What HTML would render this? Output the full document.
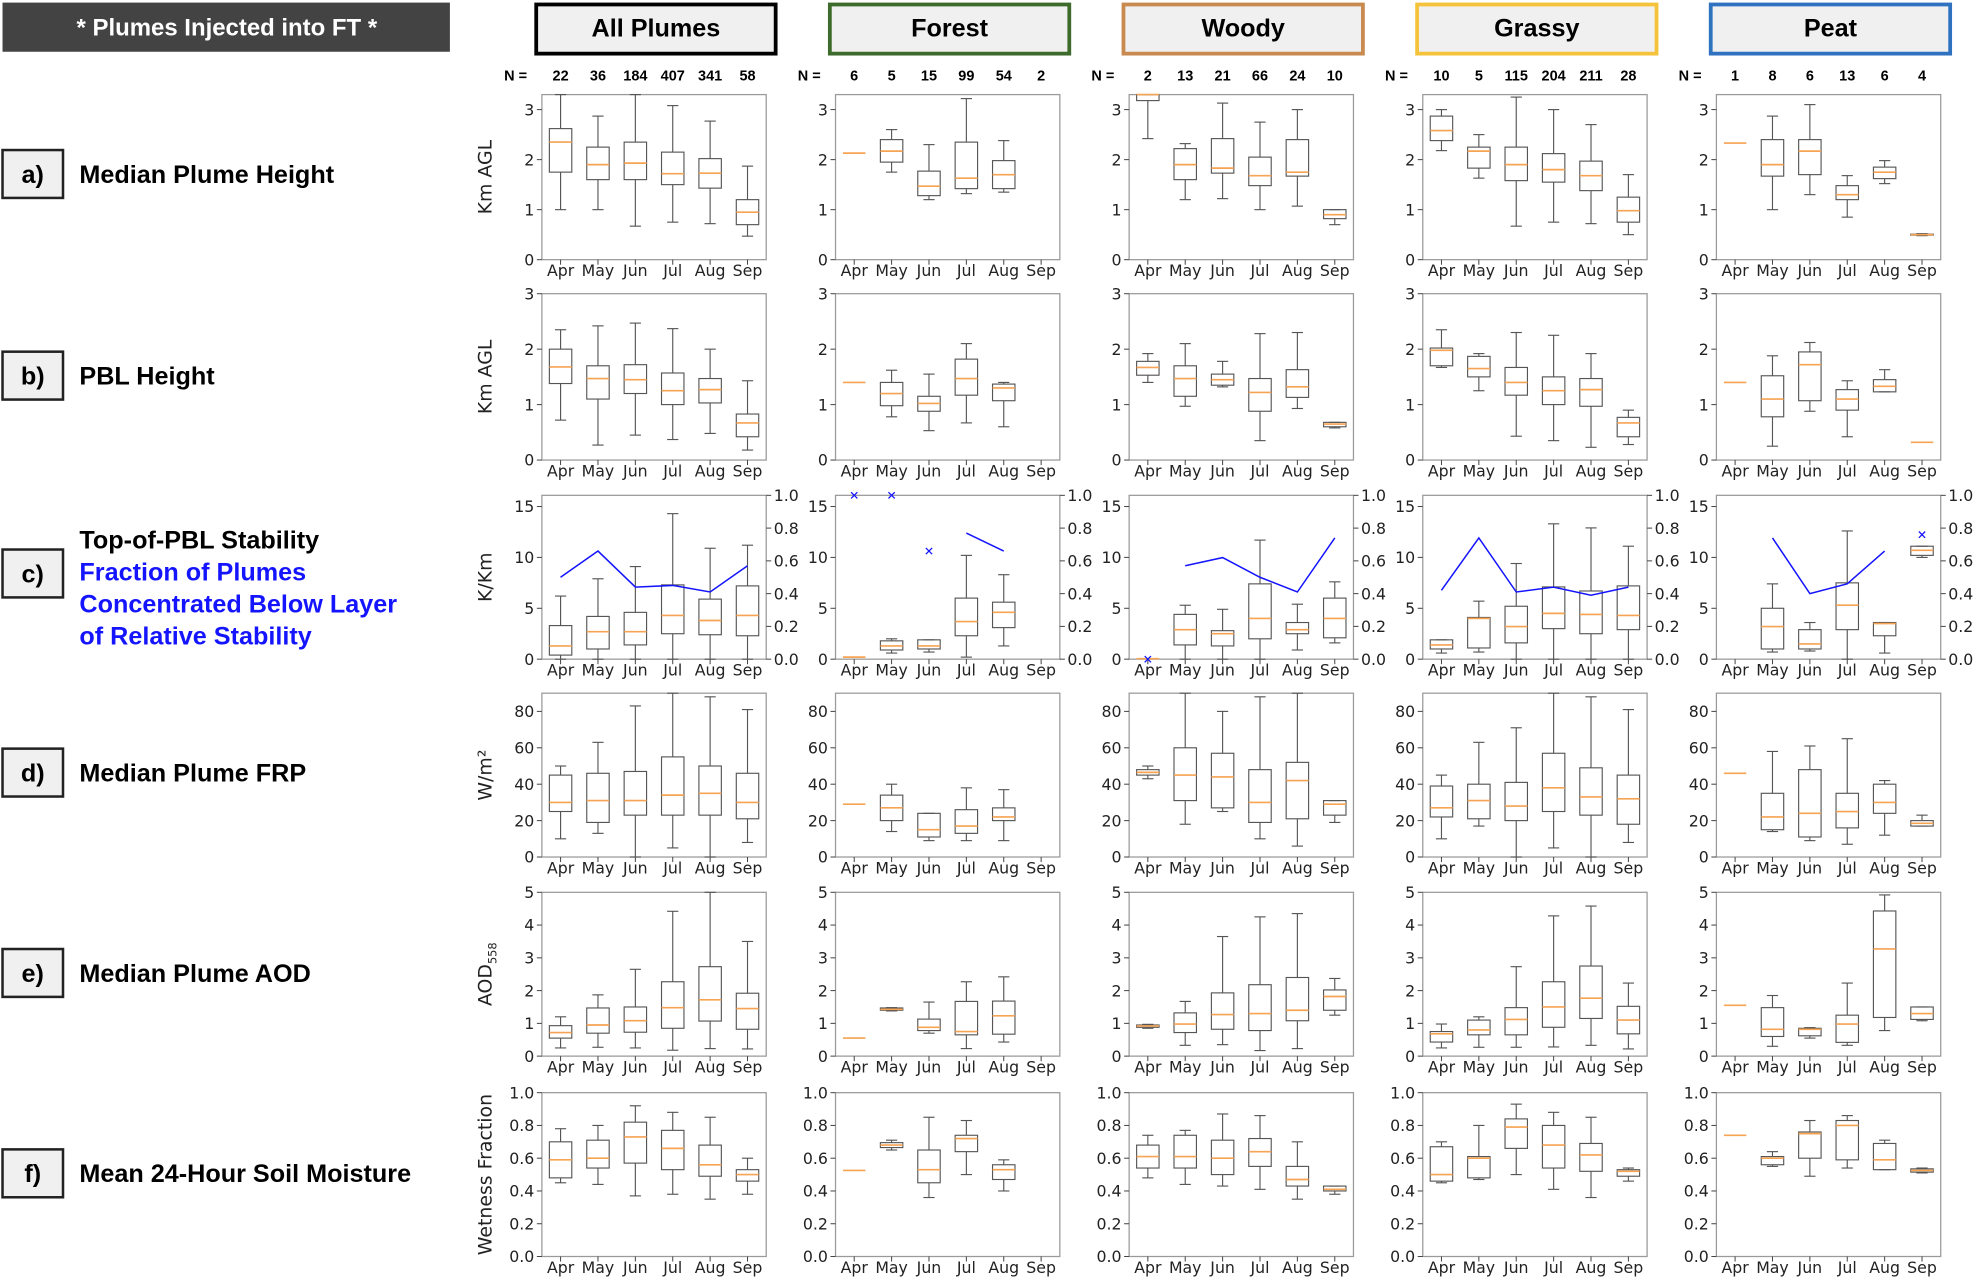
<!DOCTYPE html>
<html><head><meta charset="utf-8">
<style>
html,body{margin:0;padding:0;background:#fff;}
svg{display:block;}
.lbl{font-family:"Liberation Sans",Arial,sans-serif;font-weight:bold;}
.tk{font-family:"DejaVu Sans","Liberation Sans",sans-serif;font-size:12.5px;fill:#222;}
</style></head>
<body>
<svg id="fig" width="1976" height="1278" viewBox="0 0 1568 1014" xmlns="http://www.w3.org/2000/svg">
<rect x="0" y="0" width="1568" height="1014" fill="#fff"/>
<g>
<rect x="2" y="2" width="355" height="39" fill="#434343"/>
<text class="lbl" x="180" y="28" font-size="19" fill="#fff" text-anchor="middle">* Plumes Injected into FT *</text>
</g>
<g id="rowlabels"></g>
<g id="plots"></g>
</svg>
<script>
// ---------- data ----------
const months = ["Apr","May","Jun","Jul","Aug","Sep"];
const groups = ["All Plumes","Forest","Woody","Grassy","Peat"];
const groupColors = ["#000000","#3d6b2b","#c88a4e","#f5c33b","#2f73c0"];
const nAll = [22,36,184,407,341,58];
const nForest = [6,5,15,99,54,2];
const nWoody = [2,13,21,66,24,10];
const nGrassy = [10,5,115,204,211,28];
const nPeat = [1,8,6,13,6,4];
// boxes: [whiskerLow, q1, median, q3, whiskerHigh]; single number = median only; null = none
const heightAll = [[1.0,1.75,2.35,2.62,3.3],[1.0,1.6,1.9,2.25,2.87],[0.67,1.6,1.93,2.35,3.3],[0.75,1.5,1.72,2.15,3.08],[0.72,1.43,1.73,2.02,2.77],[0.47,0.7,0.95,1.2,1.87]];
const heightForest = [2.13,[1.75,1.95,2.17,2.4,2.6],[1.2,1.28,1.47,1.77,2.3],[1.32,1.42,1.63,2.35,3.22],[1.35,1.42,1.7,1.98,2.38],null];
const heightWoody = [[2.42,3.18,3.3,3.3,3.3],[1.2,1.6,1.9,2.22,2.32],[1.22,1.73,1.83,2.42,3.13],[1.0,1.48,1.68,2.05,2.75],[1.07,1.67,1.75,2.4,3.0],[0.7,0.82,0.9,1.0,1.0]];
const heightGrassy = [[2.18,2.38,2.58,2.87,3.0],[1.63,1.83,2.17,2.25,2.5],[0.67,1.58,1.9,2.25,3.25],[0.75,1.55,1.8,2.12,3.0],[0.72,1.38,1.68,1.97,2.7],[0.5,0.75,0.98,1.25,1.7]];
const heightPeat = [2.33,[1.0,1.67,1.9,2.4,2.87],[1.3,1.7,2.17,2.4,3.1],[0.85,1.2,1.3,1.48,1.68],[1.52,1.62,1.75,1.85,1.98],[0.48,0.49,0.5,0.51,0.52]];
const pblAll = [[0.72,1.38,1.68,2.0,2.35],[0.27,1.1,1.47,1.7,2.42],[0.45,1.2,1.45,1.72,2.47],[0.37,1.0,1.25,1.57,2.37],[0.48,1.03,1.27,1.47,2.0],[0.18,0.42,0.67,0.83,1.43]];
const pblForest = [1.4,[0.78,0.98,1.2,1.4,1.62],[0.53,0.88,1.02,1.15,1.55],[0.67,1.17,1.47,1.82,2.1],[0.6,1.07,1.3,1.37,1.4],null];
const pblWoody = [[1.4,1.53,1.67,1.78,1.92],[0.97,1.15,1.47,1.7,2.1],[1.32,1.35,1.45,1.55,1.78],[0.35,0.88,1.22,1.47,2.28],[0.93,1.13,1.32,1.63,2.3],[0.58,0.6,0.65,0.68,0.68]];
const pblGrassy = [[1.67,1.7,1.98,2.02,2.35],[1.25,1.5,1.65,1.87,1.92],[0.43,1.17,1.4,1.67,2.3],[0.35,1.0,1.25,1.5,2.25],[0.23,0.97,1.27,1.47,1.92],[0.28,0.42,0.67,0.77,0.9]];
const pblPeat = [1.4,[0.25,0.78,1.1,1.52,1.88],[0.88,1.07,1.72,1.95,2.12],[0.42,0.9,1.1,1.27,1.43],[1.23,1.23,1.33,1.45,1.63],0.32];
const stabAll = [[0,0.4,1.3,3.3,6.2],[0,1.0,2.7,4.2,7.9],[0,1.4,2.7,4.6,9.1],[0,2.5,4.3,7.3,14.3],[0,2.4,3.8,5.9,10.9],[0,2.3,4.3,7.2,11.2]];
const stabForest = [0.2,[0.6,0.9,1.3,1.8,2.0],[0.7,1.0,1.3,1.9,1.9],[0.2,2.3,3.7,6.0,10.2],[1.3,3.1,4.6,5.6,8.3],null];
const stabWoody = [0.05,[0,1.4,2.9,4.4,5.3],[0,1.3,2.5,2.8,4.9],[0,2.0,4.0,7.4,11.7],[0.9,2.5,2.9,3.6,5.4],[1.6,2.1,4.0,6.0,7.6]];
const stabGrassy = [[0.6,1.0,1.4,1.9,1.9],[0.7,1.1,4.0,4.1,5.7],[0,1.6,3.2,5.2,9.4],[0,3.0,4.5,7.1,13.3],[0,2.5,4.4,6.7,12.9],[0,2.9,4.3,7.2,11.1]];
const stabPeat = [null,[0.7,1.0,3.2,5.0,7.4],[0.8,1.0,1.5,2.9,3.6],[0,2.9,5.3,7.5,12.6],[0.6,2.3,3.5,3.6,3.6],[10.0,10.2,10.7,11.1,11.1]];
// fraction of plumes below stable layer (right axis): line values and isolated markers
const fracLineAll = [0.5,0.66,0.44,0.45,0.41,0.57];
const fracLineForest = [null,null,null,0.77,0.66,null];
const fracLineWoody = [null,0.57,0.62,0.5,0.41,0.74];
const fracLineGrassy = [0.42,0.74,0.41,0.44,0.39,0.44];
const fracLinePeat = [null,0.74,0.4,0.46,0.66,null];
const fracMarkAll = [null,null,null,null,null,null];
const fracMarkForest = [1.0,1.0,0.66,null,null,null];
const fracMarkWoody = [0.0,null,null,null,null,null];
const fracMarkGrassy = [null,null,null,null,null,null];
const fracMarkPeat = [null,null,null,null,null,0.76];
const frpAll = [[10,25,30,45,50],[13,19,31,46,63],[0,23,31,47,83],[5,23,34,55,90],[0,23,35,50,88],[8,21,30,46,81]];
const frpForest = [29,[14,20,27,34,40],[9,11,15,24,24],[9,13,17,26,38],[9,20,22,27,37],null];
const frpWoody = [[43,45,46.5,48,50],[18,31,45,60,90],[25,27,44,57,80],[10,19,30,48,88],[6,21,42,52,90],[19,23,29,31,31]];
const frpGrassy = [[10,22,27,39,45],[17,21,31,40,63],[0,20,28,41,71],[5,25,38,57,90],[0,23,33,49,88],[8,18,32,45,81]];
const frpPeat = [46,[14,15,22,35,58],[9,11,24,48,61],[7,16,25,35,65],[12,24,30,40,42],[17,17,18.5,20,23]];
const aodAll = [[0.25,0.55,0.72,0.93,1.2],[0.27,0.7,0.95,1.47,1.87],[0.25,0.73,1.08,1.5,2.65],[0.18,0.85,1.48,2.27,4.42],[0.23,1.07,1.72,2.73,5.0],[0.22,0.82,1.45,1.92,3.5]];
const aodForest = [0.55,[1.38,1.4,1.43,1.47,1.48],[0.7,0.78,0.88,1.13,1.65],[0.23,0.65,0.75,1.67,2.27],[0.43,0.67,1.23,1.68,2.42],null];
const aodWoody = [[0.85,0.88,0.92,0.95,0.97],[0.33,0.72,0.98,1.32,1.67],[0.35,0.82,1.27,1.93,3.65],[0.17,0.78,1.3,2.18,4.25],[0.23,1.08,1.4,2.4,4.35],[1.25,1.4,1.82,2.02,2.37]];
const aodGrassy = [[0.25,0.43,0.68,0.75,0.98],[0.27,0.65,0.8,1.1,1.2],[0.27,0.65,1.12,1.48,2.73],[0.28,0.88,1.5,2.27,4.28],[0.33,1.15,1.77,2.75,4.58],[0.22,0.68,1.1,1.52,2.23]];
const aodPeat = [1.55,[0.3,0.6,0.82,1.48,1.85],[0.55,0.62,0.82,0.85,0.87],[0.33,0.42,0.98,1.25,2.23],[0.78,1.18,3.27,4.43,4.92],[1.08,1.12,1.3,1.5,1.5]];
const soilAll = [[0.45,0.48,0.59,0.7,0.78],[0.44,0.54,0.6,0.71,0.8],[0.37,0.57,0.73,0.82,0.92],[0.38,0.53,0.66,0.77,0.88],[0.35,0.49,0.56,0.68,0.85],[0.38,0.46,0.5,0.53,0.6]];
const soilForest = [0.525,[0.65,0.665,0.68,0.695,0.71],[0.36,0.45,0.53,0.65,0.85],[0.5,0.64,0.72,0.74,0.83],[0.4,0.47,0.53,0.56,0.59],null];
const soilWoody = [[0.48,0.54,0.61,0.68,0.74],[0.44,0.54,0.61,0.74,0.77],[0.43,0.5,0.6,0.71,0.87],[0.41,0.55,0.64,0.72,0.86],[0.35,0.43,0.47,0.55,0.7],[0.38,0.4,0.41,0.43,0.43]];
const soilGrassy = [[0.45,0.46,0.5,0.67,0.7],[0.47,0.48,0.6,0.61,0.8],[0.5,0.66,0.79,0.84,0.93],[0.41,0.54,0.68,0.8,0.88],[0.36,0.52,0.62,0.69,0.85],[0.46,0.49,0.52,0.53,0.54]];
const soilPeat = [0.74,[0.55,0.56,0.6,0.61,0.64],[0.49,0.6,0.75,0.76,0.83],[0.54,0.59,0.8,0.83,0.86],[0.53,0.53,0.59,0.69,0.71],[0.51,0.515,0.525,0.535,0.54]];
const ticksA = ["0","1","2","3"];
const ticksC = ["0","5","10","15"];
const ticksD = ["0","20","40","60","80"];
const ticksE = ["0","1","2","3","4","5"];
const ticksF = ["0.0","0.2","0.4","0.6","0.8","1.0"];
const ticksR = ["0.0","0.2","0.4","0.6","0.8","1.0"];

// ---------- layout ----------
const NS = "http://www.w3.org/2000/svg";
function mk(tag, attrs, parent){const e=document.createElementNS(NS,tag);for(const k in attrs)e.setAttribute(k,attrs[k]);if(parent)parent.appendChild(e);return e;}
const rows = [
 {key:"a",top:75,bot:206,ymax:3.3,ticks:ticksA,title:"Km AGL",data:[heightAll,heightForest,heightWoody,heightGrassy,heightPeat],label:["Median Plume Height"],ly:138},
 {key:"b",top:233,bot:365,ymax:3.0,ticks:ticksA,title:"Km AGL",data:[pblAll,pblForest,pblWoody,pblGrassy,pblPeat],label:["PBL Height"],ly:298},
 {key:"c",top:393,bot:523,ymax:16.1,ticks:ticksC,title:"K/Km",data:[stabAll,stabForest,stabWoody,stabGrassy,stabPeat],label:["Top-of-PBL Stability","Fraction of Plumes","Concentrated Below Layer","of Relative Stability"],ly:455,
  fl:[fracLineAll,fracLineForest,fracLineWoody,fracLineGrassy,fracLinePeat],fm:[fracMarkAll,fracMarkForest,fracMarkWoody,fracMarkGrassy,fracMarkPeat]},
 {key:"d",top:550,bot:680,ymax:90,ticks:ticksD,title:"W/m²",data:[frpAll,frpForest,frpWoody,frpGrassy,frpPeat],label:["Median Plume FRP"],ly:613},
 {key:"e",top:708,bot:838,ymax:5,ticks:ticksE,title:"AOD",sub:"558",data:[aodAll,aodForest,aodWoody,aodGrassy,aodPeat],label:["Median Plume AOD"],ly:772},
 {key:"f",top:867,bot:997,ymax:1.0,ticks:ticksF,title:"Wetness Fraction",data:[soilAll,soilForest,soilWoody,soilGrassy,soilPeat],label:["Mean 24-Hour Soil Moisture"],ly:931}
];
const nCounts = [nAll,nForest,nWoody,nGrassy,nPeat];
const svg = document.getElementById("fig");
const plots = document.getElementById("plots");
const rl = document.getElementById("rowlabels");
const colX = k => 430 + 233*k, PW = 178;

groups.forEach((g,k)=>{
  const hg = mk("g",{},svg);
  
  
  mk("rect",{x:colX(k)-6+1.5,y:3.5,width:190,height:39,fill:"#f0f0f0",stroke:groupColors[k],"stroke-width":3},hg);
  const t=mk("text",{class:"lbl",x:colX(k)-6+96.5,y:29,"font-size":20,"text-anchor":"middle",fill:"#000"},hg); t.textContent=g;
  const ng = mk("g",{},svg);
  
  
  const nt=mk("text",{class:"lbl",x:colX(k)-30,y:64,"font-size":11.5,"text-anchor":"start"},ng); nt.textContent="N =";
  nCounts[k].forEach((n,i)=>{const x=colX(k)+PW*(i+0.5)/6;const tt=mk("text",{class:"lbl",x:x,y:64,"font-size":11.5,"text-anchor":"middle"},ng);tt.textContent=n;});
});

rows.forEach((r,ri)=>{
  const lg = mk("g",{},rl);
  
  
  mk("rect",{x:2,y:r.ly-19,width:48,height:38,fill:"#f0f0f0",stroke:"#222","stroke-width":2},lg);
  const bt=mk("text",{class:"lbl",x:26,y:r.ly+7,"font-size":20,"text-anchor":"middle"},lg); bt.textContent=r.key+")";
  if(r.label.length===1){const t=mk("text",{class:"lbl",x:63,y:r.ly+7,"font-size":20},lg);t.textContent=r.label[0];}
  else r.label.forEach((s,j)=>{const t=mk("text",{class:"lbl",x:63,y:435+j*25.5,"font-size":20,fill:j===0?"#000":"#1414ff"},lg);t.textContent=s;});
  const H=r.bot-r.top;
  const y=v=>r.bot - H*v/r.ymax;
  r.data.forEach((series,k)=>{
    const x0=colX(k);
    const xs=i=>x0+PW*(i+0.5)/6;
    const pg=mk("g",{},plots);
    
    
    mk("rect",{x:x0,y:r.top,width:PW,height:H,fill:"#fff",stroke:"#9a9a9a","stroke-width":1},pg);
    r.ticks.forEach(tl=>{const v=parseFloat(tl);const yy=y(v);
      mk("line",{x1:x0-4,x2:x0,y1:yy,y2:yy,stroke:"#444","stroke-width":0.8},pg);
      const t=mk("text",{class:"tk",x:x0-6,y:yy+4.5,"text-anchor":"end"},pg);t.textContent=tl;});
    months.forEach((m,i)=>{mk("line",{x1:xs(i),x2:xs(i),y1:r.bot,y2:r.bot+4,stroke:"#444","stroke-width":0.8},pg);
      const t=mk("text",{class:"tk",x:xs(i),y:r.bot+13,"text-anchor":"middle"},pg);t.textContent=m;});
    if(k===0){
      const cx=390, cy=(r.top+r.bot)/2;
      const t=mk("text",{class:"tk",x:cx,y:cy,"font-size":15,"text-anchor":"middle",transform:`rotate(-90 ${cx} ${cy})`},pg);
      
      
      t.style.fontSize="15px";
      t.textContent=r.title;
      if(r.sub){const s=mk("tspan",{"font-size":9,dy:4},t);s.textContent=r.sub;}
    }
    const bw=PW/6*0.6, cw=bw/2;
    const clip=v=>Math.min(v,r.ymax);
    series.forEach((b,i)=>{
      if(b===null)return;
      const cx=xs(i);
      const bg=mk("g",{},pg);
      
      
      if(typeof b==="number"){mk("line",{x1:cx-bw/2,x2:cx+bw/2,y1:y(b),y2:y(b),stroke:"#f7a354","stroke-width":1.3},bg);return;}
      const [lo,q1,md,q3,hi]=b.map(clip);
      mk("line",{x1:cx,x2:cx,y1:y(lo),y2:y(q1),stroke:"#555","stroke-width":0.9},bg);
      mk("line",{x1:cx,x2:cx,y1:y(q3),y2:y(hi),stroke:"#555","stroke-width":0.9},bg);
      mk("line",{x1:cx-cw/2,x2:cx+cw/2,y1:y(lo),y2:y(lo),stroke:"#555","stroke-width":0.9},bg);
      mk("line",{x1:cx-cw/2,x2:cx+cw/2,y1:y(hi),y2:y(hi),stroke:"#555","stroke-width":0.9},bg);
      mk("rect",{x:cx-bw/2,y:y(q3),width:bw,height:Math.max(0.5,y(q1)-y(q3)),fill:"none",stroke:"#555","stroke-width":0.9},bg);
      mk("line",{x1:cx-bw/2,x2:cx+bw/2,y1:y(md),y2:y(md),stroke:"#f7a354","stroke-width":1.3},bg);
    });
    if(r.fl){
      const yr=v=>r.bot-H*v;
      ticksR.forEach(tl=>{const v=parseFloat(tl);const yy=yr(v);
        mk("line",{x1:x0+PW,x2:x0+PW+4,y1:yy,y2:yy,stroke:"#444","stroke-width":0.8},pg);
        const t=mk("text",{class:"tk",x:x0+PW+6,y:yy+4.5,"text-anchor":"start"},pg);t.textContent=tl;});
      const fl=r.fl[k];
      let d="";
      fl.forEach((v,i)=>{if(v===null){return;}const prev=i>0&&fl[i-1]!==null;d+=(prev?"L":"M")+xs(i).toFixed(1)+","+yr(v).toFixed(1);});
      const p=mk("path",{d:d,fill:"none",stroke:"#1414ff","stroke-width":1.2},pg);
      
      
      r.fm[k].forEach((v,i)=>{if(v===null)return;const mx=xs(i),my=yr(v);
        const m=mk("path",{d:`M${mx-2.5},${my-2.5}L${mx+2.5},${my+2.5}M${mx-2.5},${my+2.5}L${mx+2.5},${my-2.5}`,stroke:"#1414ff","stroke-width":1},pg);
        
        });
    }
  });
});
</script>
</body></html>
